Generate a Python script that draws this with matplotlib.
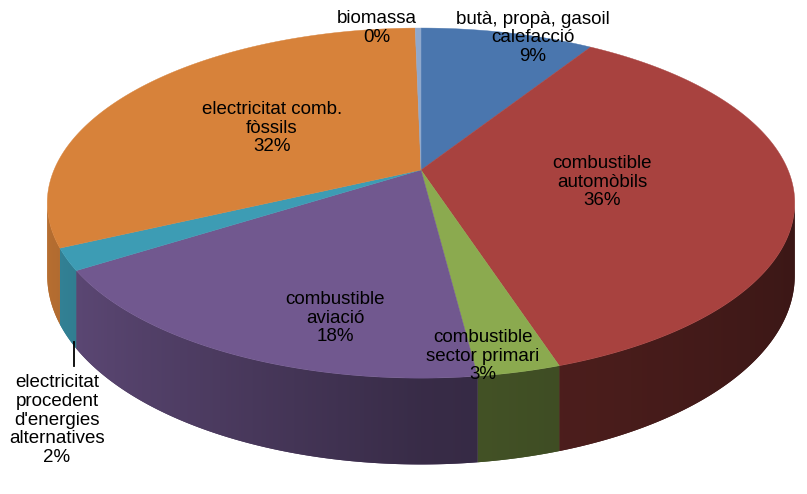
import numpy as np
import matplotlib.pyplot as plt
from matplotlib.colors import to_rgb
from matplotlib.patches import Polygon

plt.rcParams['font.family'] = ['Liberation Sans', 'DejaVu Sans']

# dades del grafic (ordre en sentit horari des de dalt)
categories = ['butà, propà, gasoil\ncalefacció', 'combustible\nautomòbils',
              'combustible\nsector primari', 'combustible\naviació',
              "electricitat\nprocedent\nd'energies\nalternatives",
              'electricitat comb.\nfòssils', 'biomassa']
valors = [9, 36, 3, 18, 2, 31.7, 0.3]
etiquetes_pct = ['9%', '36%', '3%', '18%', '2%', '32%', '0%']
colors = ['#4a76ae', '#a8423f', '#8baa4f', '#71588f', '#3d9cb4', '#d7823a', '#8fa8cc']

# geometria del pastis 3D (pixels)
cx, cy = 421, 170
R = 367
ry = 168.8
k = 0.189
D = 70

# posicions de les etiquetes
pos_etiq = [(533, 38), (602, 182), (483, 356), (335, 318), (57, 420), (272, 128), (377, 28)]


def punt(t, r=1.0):
    s = 1.0 / (1 + k * r * np.cos(t))
    return cx + R * r * np.sin(t) * s, cy - ry * r * np.cos(t) * s, s


def ombra(t):
    sn = np.sin(t)
    return np.where(sn < 0, 0.5 - 0.36 * sn, 0.5 - 0.15 * sn)


fig = plt.figure(figsize=(8.07, 4.94), dpi=100)
ax = fig.add_axes([0, 0, 1, 1])
ax.set_xlim(0, 807)
ax.set_ylim(494, 0)
ax.axis('off')

frac = np.array(valors) / sum(valors)
limits = np.concatenate([[0], np.cumsum(frac)]) * 2 * np.pi

# zona visible del lateral
t_min = np.arccos(-k)
t_max = 2 * np.pi - t_min

# relacio x -> angle a la part frontal
t_front = np.linspace(t_min, t_max, 2000)
x_front = np.array([punt(t)[0] for t in t_front])
xcols = np.arange(0, 808)
t_cols = np.interp(xcols, x_front[::-1], t_front[::-1])
f_cols = ombra(t_cols)

# laterals
for i in range(len(valors)):
    a1, a2 = max(limits[i], t_min), min(limits[i + 1], t_max)
    if a2 <= a1:
        continue
    ts = np.linspace(a1, a2, max(3, int((a2 - a1) / 0.005)))
    dalt = [punt(t) for t in ts]
    xs = [p[0] for p in dalt] + [p[0] for p in dalt[::-1]]
    ys = [p[1] for p in dalt] + [p[1] + D * p[2] for p in dalt[::-1]]
    pol = Polygon(np.column_stack([xs, ys]), closed=True,
                  fc=tuple(v * float(ombra((a1 + a2) / 2)) for v in to_rgb(colors[i])), ec='none', zorder=1)
    ax.add_patch(pol)
    img = np.clip(np.outer(f_cols, to_rgb(colors[i])), 0, 1)[None, :, :]
    im = ax.imshow(img, extent=(-0.5, 807.5, 494, 0), aspect='auto', interpolation='bilinear', zorder=1.5)
    im.set_clip_path(pol)

# cara superior
for i in range(len(valors)):
    ts = np.linspace(limits[i], limits[i + 1], max(3, int((limits[i + 1] - limits[i]) / 0.005)))
    xs = [cx] + [punt(t)[0] for t in ts]
    ys = [cy] + [punt(t)[1] for t in ts]
    ax.fill(xs, ys, color=colors[i], lw=0.3, ec=colors[i], zorder=2)

ax.set_xlim(0, 807)
ax.set_ylim(494, 0)

# etiquetes
for i in range(len(valors)):
    x, y = pos_etiq[i]
    ax.text(x, y, categories[i] + '\n' + etiquetes_pct[i], ha='center', va='center',
            fontsize=13.5, linespacing=1.15, color='black', zorder=3)

# linia guia per l'etiqueta petita
xa, ya, sa = punt(limits[4] * 0.7 + limits[5] * 0.3)
ax.plot([xa + 3, xa + 3], [ya + D * sa + 1, 366], color='black', lw=1.3, zorder=3)

fig.savefig('out.png', dpi=100)
